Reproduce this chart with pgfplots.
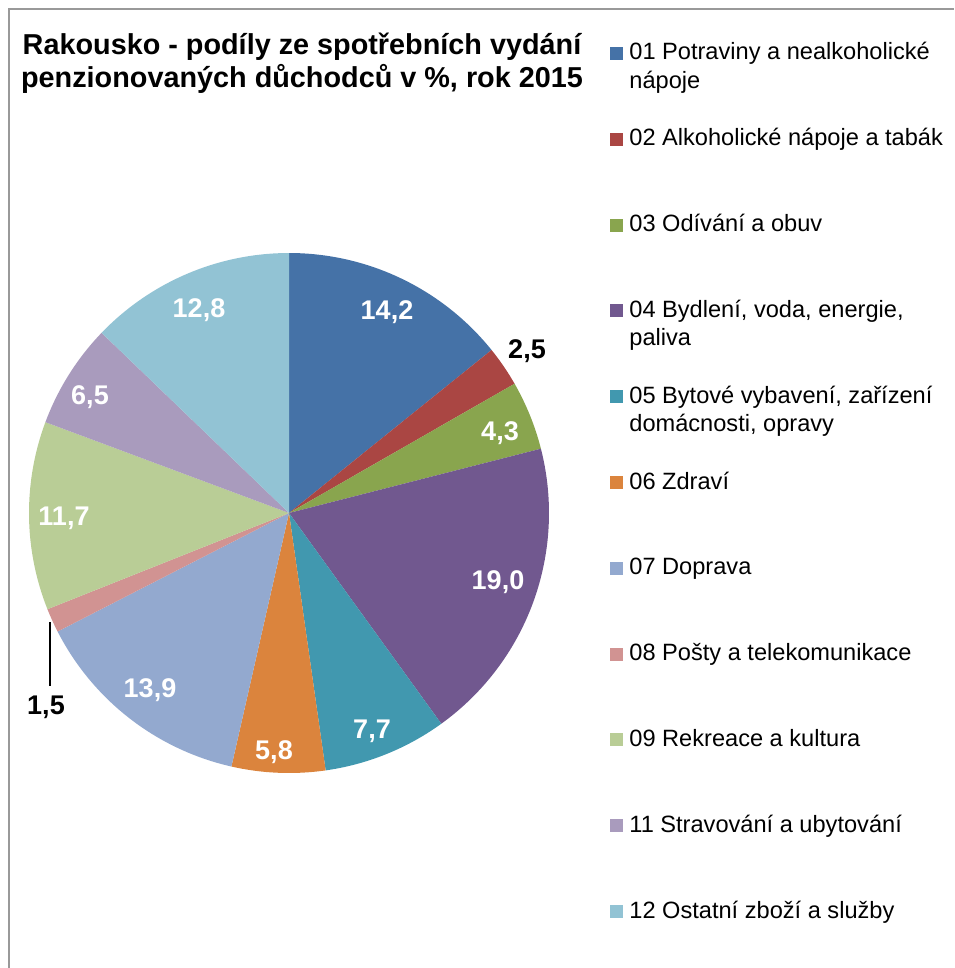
\documentclass[border=0pt]{standalone}
\usepackage{pgfplots}
\pgfplotsset{compat=1.18}
\usepackage{fontspec}
\setmainfont{Liberation Sans}
\definecolor{c01}{HTML}{4572A7}
\definecolor{c02}{HTML}{AA4643}
\definecolor{c03}{HTML}{89A54E}
\definecolor{c04}{HTML}{71588F}
\definecolor{c05}{HTML}{4198AF}
\definecolor{c06}{HTML}{DB843D}
\definecolor{c07}{HTML}{93A9CF}
\definecolor{c08}{HTML}{D19392}
\definecolor{c09}{HTML}{B9CD96}
\definecolor{c11}{HTML}{A99BBD}
\definecolor{c12}{HTML}{92C3D4}
% shares in %
\def\total{99.9}
\pgfmathsetmacro\aA{90}
\pgfmathsetmacro\aB{\aA-360*14.2/\total}
\pgfmathsetmacro\aC{\aB-360*2.5/\total}
\pgfmathsetmacro\aD{\aC-360*4.3/\total}
\pgfmathsetmacro\aE{\aD-360*19.0/\total}
\pgfmathsetmacro\aF{\aE-360*7.7/\total}
\pgfmathsetmacro\aG{\aF-360*5.8/\total}
\pgfmathsetmacro\aH{\aG-360*13.9/\total}
\pgfmathsetmacro\aI{\aH-360*1.5/\total}
\pgfmathsetmacro\aJ{\aI-360*11.7/\total}
\pgfmathsetmacro\aK{\aJ-360*6.5/\total}
\pgfmathsetmacro\aL{\aK-360*12.8/\total}
\newcommand\slice[3]{%
  \addplot[draw=none, fill=#1, domain=#3:#2, samples=90, variable=\t]
    ({cos(\t)},{sin(\t)}) -- (axis cs:0,0) -- cycle;}
\begin{document}
\begin{tikzpicture}
\begin{axis}[at={(144.5pt,-256.5pt)}, anchor=center, width=260pt, height=260pt,
  scale only axis, xmin=-1, xmax=1, ymin=-1, ymax=1, hide axis, clip=false]
\slice{c01}{\aA}{\aB}
\slice{c02}{\aB}{\aC}
\slice{c03}{\aC}{\aD}
\slice{c04}{\aD}{\aE}
\slice{c05}{\aE}{\aF}
\slice{c06}{\aF}{\aG}
\slice{c07}{\aG}{\aH}
\slice{c08}{\aH}{\aI}
\slice{c09}{\aI}{\aJ}
\slice{c11}{\aJ}{\aK}
\slice{c12}{\aK}{\aL}
\end{axis}
\begin{scope}[x=0.5pt,y=-0.5pt]
\useasboundingbox (0,0) rectangle (954,968);
\draw[color=black!40, line width=1pt] (9,968) -- (9,9) -- (954,9);
% title
\begin{scope}[every node/.style={font=\fontsize{14.4}{17}\selectfont\bfseries, anchor=base, inner sep=0pt}]
\node at (302,55) {Rakousko - podíly ze spotřebních vydání};
\node at (302,88) {penzionovaných důchodců v \%, rok 2015};
\end{scope}
% data labels
\begin{scope}[every node/.style={font=\fontsize{13.5}{16}\selectfont\bfseries, text=white, inner sep=0pt}]
\node at (387,312) {14,2};
\node[text=black] at (527,351) {2,5};
\node at (500,433) {4,3};
\node at (498,582) {19,0};
\node at (372,731) {7,7};
\node at (274,752) {5,8};
\node at (150,690) {13,9};
\node[text=black] at (46,707) {1,5};
\node at (64,518) {11,7};
\node at (90,397) {6,5};
\node at (199,310) {12,8};
\end{scope}
\draw[black, line width=0.6pt] (50,622) -- (50,686);
% legend
\begin{scope}[every node/.style={font=\fontsize{11.8}{14}\selectfont, anchor=base west, inner sep=0pt}]
\foreach \c/\t/\u [count=\i from 0] in {c01/{01 Potraviny a nealkoholické}/{nápoje},
  c02/{02 Alkoholické nápoje a tabák}/{},
  c03/{03 Odívání a obuv}/{},
  c04/{04 Bydlení, voda, energie,}/{paliva},
  c05/{05 Bytové vybavení, zařízení}/{domácnosti, opravy},
  c06/{06 Zdraví}/{},
  c07/{07 Doprava}/{},
  c08/{08 Pošty a telekomunikace}/{},
  c09/{09 Rekreace a kultura}/{},
  c11/{11 Stravování a ubytování}/{},
  c12/{12 Ostatní zboží a služby}/{}}{
  \pgfmathsetmacro\yb{60+85.8*\i}
  \fill[\c] (610,\yb-13) rectangle (623,\yb);
  \node at (629,\yb) {\t};
  \node at (629,\yb+28.5) {\u};
}
\end{scope}
\end{scope}
\end{tikzpicture}
\end{document}
